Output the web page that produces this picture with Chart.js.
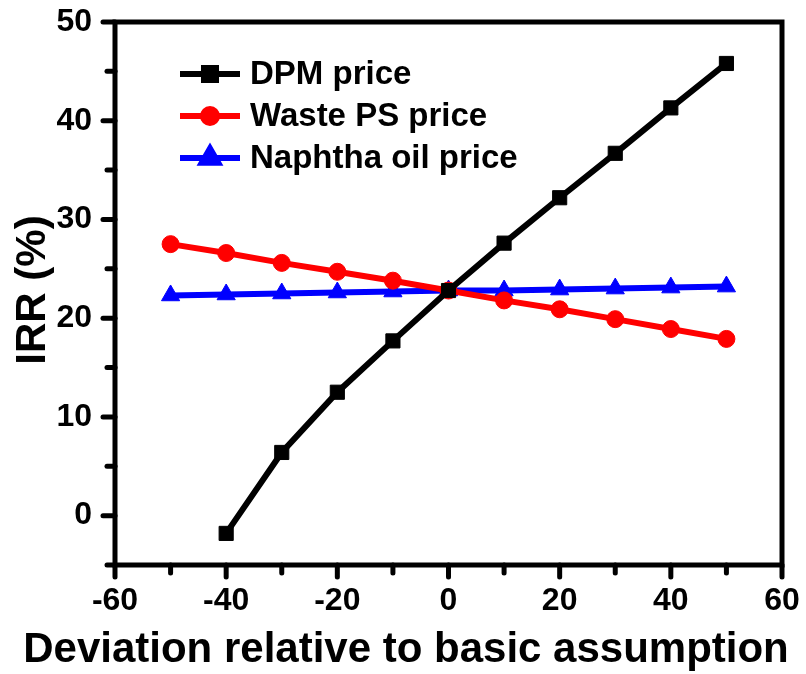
<!DOCTYPE html>
<html>
<head>
<meta charset="utf-8">
<script src="https://cdn.jsdelivr.net/npm/chart.js@4.4.1/dist/chart.umd.min.js"></script>
<style>
  html, body { margin: 0; padding: 0; background: #fff; }
  #wrap { width: 806px; height: 674px; position: relative; }
</style>
</head>
<body>
<div id="wrap"><canvas id="c" width="806" height="674"></canvas></div>
<script>
// Deviation from the base case (%)
const deviationDPM = [-40, -30, -20, -10, 0, 10, 20, 30, 40, 50];
const deviationFull = [-50, -40, -30, -20, -10, 0, 10, 20, 30, 40, 50];

// IRR (%) for each varied parameter
const irrDPM = [-1.8, 6.4, 12.5, 17.7, 22.8, 27.6, 32.2, 36.7, 41.3, 45.8];
const irrWastePS = [27.5, 26.6, 25.6, 24.7, 23.8, 22.8, 21.8, 20.9, 19.9, 18.9, 17.9];
const irrNaphtha = [22.3, 22.4, 22.5, 22.6, 22.7, 22.8, 22.8, 22.9, 23.0, 23.1, 23.2];

const seriesNames = ['DPM price', 'Waste PS price', 'Naphtha oil price'];
const xTitle = 'Deviation relative to basic assumption';
const yTitle = 'IRR (%)';

const FONT = "'Liberation Sans', Arial, sans-serif";

function pairs(xs, ys) { return xs.map((x, i) => ({ x: x, y: ys[i] })); }

// Box frame, outward major/minor ticks and the two axis titles
const framePlugin = {
  id: 'frame',
  afterDraw(chart) {
    const ctx = chart.ctx, a = chart.chartArea;
    const xs = chart.scales.x, ys = chart.scales.y;
    ctx.save();
    ctx.strokeStyle = '#000';
    ctx.lineWidth = 5;
    ctx.lineCap = 'round';
    xs.ticks.forEach(t => {
      const px = xs.getPixelForValue(t.value);
      const len = (t.value % 20 === 0) ? 12 : 8;
      ctx.beginPath(); ctx.moveTo(px, a.bottom); ctx.lineTo(px, a.bottom + len); ctx.stroke();
    });
    ys.ticks.forEach(t => {
      const py = ys.getPixelForValue(t.value);
      const len = (t.value % 10 === 0) ? 12 : 8;
      ctx.beginPath(); ctx.moveTo(a.left, py); ctx.lineTo(a.left - len, py); ctx.stroke();
    });
    ctx.lineCap = 'butt';
    ctx.lineJoin = 'miter';
    ctx.strokeRect(a.left, a.top, a.right - a.left, a.bottom - a.top);

    ctx.fillStyle = '#000';
    ctx.font = 'bold 42px ' + FONT;
    ctx.textAlign = 'center';
    ctx.textBaseline = 'alphabetic';
    ctx.fillText(xTitle, 406, 662);

    ctx.translate(45, 290);
    ctx.rotate(-Math.PI / 2);
    ctx.font = 'bold 42px ' + FONT;
    ctx.fillText(yTitle, 0, 0);
    ctx.restore();
  }
};

// Legend: line segment with marker, then bold label
const legendPlugin = {
  id: 'lineLegend',
  afterDatasetsDraw(chart) {
    const ctx = chart.ctx;
    const x0 = 180, x1 = 240, tx = 250;
    const rows = [74, 116, 158];
    const markerR = [8.5, 7, 9.5];
    ctx.save();
    chart.data.datasets.forEach((ds, i) => {
      const y = rows[i];
      ctx.strokeStyle = ds.borderColor;
      ctx.lineWidth = ds.borderWidth;
      ctx.beginPath(); ctx.moveTo(x0, y); ctx.lineTo(x1, y); ctx.stroke();
      Chart.helpers.drawPoint(ctx, {
        pointStyle: ds.pointStyle, radius: markerR[i], borderWidth: 1, rotation: 0
      }, (x0 + x1) / 2, y);
      ctx.fillStyle = ds.pointBackgroundColor;
      ctx.strokeStyle = ds.pointBorderColor;
      ctx.lineWidth = 1;
      ctx.fill(); ctx.stroke();
      ctx.fillStyle = '#000';
      ctx.font = 'bold 33px ' + FONT;
      ctx.textBaseline = 'middle';
      ctx.textAlign = 'left';
      ctx.fillText(ds.label, tx, y + 1);
    });
    ctx.restore();
  }
};

function makeSet(label, xs, ys, color, style, r) {
  return {
    label: label,
    data: pairs(xs, ys),
    borderColor: color,
    backgroundColor: color,
    pointBackgroundColor: color,
    pointBorderColor: color,
    pointBorderWidth: 1,
    pointStyle: style,
    pointRadius: r,
    borderWidth: 6,
    tension: 0
  };
}

new Chart(document.getElementById('c'), {
  type: 'line',
  data: {
    datasets: [
      makeSet(seriesNames[0], deviationDPM, irrDPM, '#000000', 'rect', 10),
      makeSet(seriesNames[1], deviationFull, irrWastePS, '#ff0000', 'circle', 8.5),
      makeSet(seriesNames[2], deviationFull, irrNaphtha, '#0000ff', 'triangle', 10.5)
    ]
  },
  options: {
    responsive: false,
    animation: false,
    events: [],
    layout: { padding: { top: 22, right: 24, left: 0, bottom: 0 } },
    plugins: { legend: { display: false }, tooltip: { enabled: false } },
    scales: {
      x: {
        type: 'linear',
        min: -60, max: 60,
        grid: { display: false },
        border: { display: false },
        ticks: {
          stepSize: 10, autoSkip: false, maxRotation: 0, padding: 9,
          color: '#000', font: { family: FONT, size: 32, weight: 'bold' },
          callback: v => (v % 20 === 0 ? String(v) : '')
        },
        afterFit(s) { s.height = 109; s.paddingLeft = 0; s.paddingRight = 0; }
      },
      y: {
        type: 'linear',
        min: -5, max: 50,
        grid: { display: false },
        border: { display: false },
        ticks: {
          stepSize: 5, autoSkip: false, padding: 15,
          color: '#000', font: { family: FONT, size: 32, weight: 'bold' },
          callback: v => (v % 10 === 0 ? String(v) : '')
        },
        afterFit(s) { s.width = 115; s.paddingTop = 0; s.paddingBottom = 0; }
      }
    }
  },
  plugins: [framePlugin, legendPlugin]
});
</script>
</body>
</html>
